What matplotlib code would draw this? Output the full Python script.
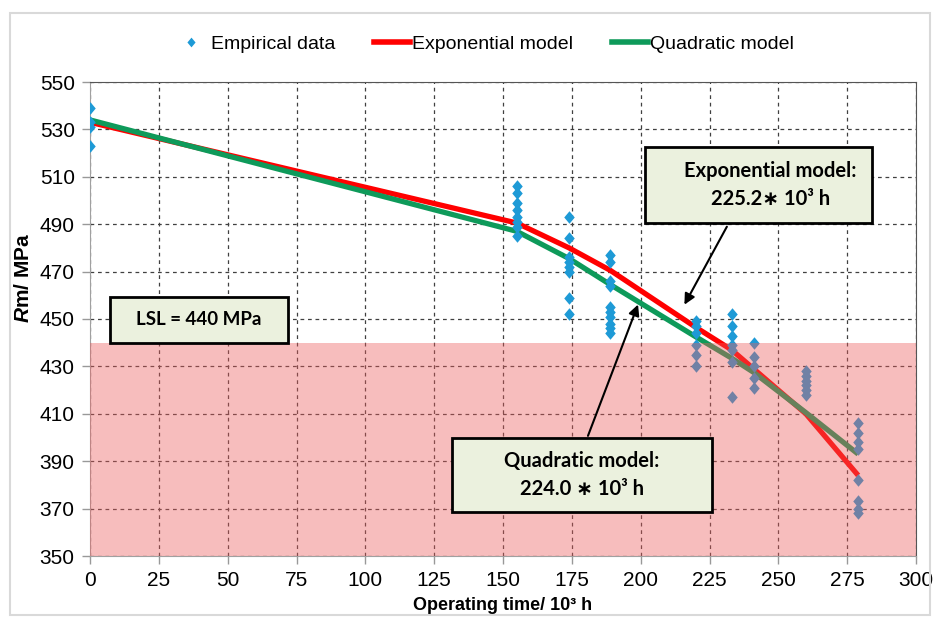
import matplotlib
matplotlib.use("Agg")
import matplotlib.pyplot as plt
from matplotlib.patches import Rectangle
from matplotlib.lines import Line2D
import numpy as np

# -------------------------- data --------------------------
group_time = [0, 155, 174, 189, 220, 233, 241, 260, 279]
group_rm = [
    [539, 533, 531, 523],
    [506, 503, 499, 496, 493, 491, 489, 485],
    [493, 484, 476, 474, 472, 470, 459, 452],
    [477, 474, 466, 464, 455, 453, 451, 448, 446, 444],
    [449, 447, 444, 439, 435, 430],
    [452, 447, 443, 439, 437, 432, 417],
    [440, 434, 430, 425, 421],
    [428, 426, 424, 422, 420, 418],
    [406, 402, 398, 395, 382, 373, 370, 368],
]

model_time = [0, 155, 174, 189, 220, 233, 241, 260, 279]
exp_model = [533, 490.5, 480, 470.5, 446.5, 437, 429, 410, 384]
quad_model = [534, 487, 475.5, 464.5, 442.5, 433.5, 427.5, 410.5, 393]

LSL = 440
labels = ["Empirical data", "Exponential model", "Quadratic model"]

emp_t = np.concatenate([[t] * len(r) for t, r in zip(group_time, group_rm)])
emp_r = np.concatenate(group_rm)

# -------------------------- style --------------------------
plt.rcParams['font.family'] = ['Liberation Sans', 'DejaVu Sans']
plt.rcParams['mathtext.fontset'] = 'custom'
plt.rcParams['mathtext.it'] = 'Liberation Sans:italic:bold'
plt.rcParams['mathtext.rm'] = 'Liberation Sans:bold'

BLUE = "#1E9AD6"
RED = "#FF0000"
GREEN = "#0E9A5A"
BOXFC = "#EBF1DE"
# Excel-like diamond, slightly taller than wide
DIAMOND = [(-0.42, 0), (0, 0.5), (0.42, 0), (0, -0.5), (-0.42, 0)]

fig = plt.figure(figsize=(9.4, 6.24), dpi=100)
ax = fig.add_axes([90 / 940, 1 - 556 / 624, 826 / 940, 474 / 624])

ax.plot(model_time, exp_model, color=RED, lw=3.8, zorder=3, solid_capstyle='butt')
ax.plot(model_time, quad_model, color=GREEN, lw=3.8, zorder=3, solid_capstyle='butt')
ax.plot(emp_t, emp_r, ls='none', marker=DIAMOND, color=BLUE, ms=9, mec='none', zorder=4)

# LSL shaded region drawn over everything
ax.axhspan(350, LSL, color="#ED5C5C", alpha=0.4, lw=0, zorder=5)

ax.set_xlim(0, 300)
ax.set_ylim(350, 550)
ax.set_xticks(np.arange(0, 301, 25))
ax.set_yticks(np.arange(350, 551, 20))
ax.set_axisbelow(True)
ax.grid(True, ls=(0, (3, 3)), color="#404040", lw=0.9)
ax.tick_params(direction='out', length=6, width=1, color="#999999", labelsize=15, pad=5)
for s in ['left', 'bottom']:
    ax.spines[s].set_color("#A0A0A0")
for s in ['top', 'right']:
    ax.spines[s].set_color("#555555")

ax.set_xlabel("Operating time/ 10³ h", fontsize=13, fontweight='bold')
ax.xaxis.set_label_coords(0.5, -0.086)
ax.set_ylabel(r"$\it{R}$m/ MPa", fontsize=15, fontweight='bold')
ax.yaxis.set_label_coords(-0.069, 0.586)

# annotation boxes
box_font = dict(family=['Lato', 'DejaVu Sans'], fontweight='bold',
                ha='center', va='center', linespacing=1.45, zorder=8)
boxes = [
    ((201.6, 490.5), 82.4, 32.0, 4.4, "Exponential model:\n225.2∗ 10³ h", 14.5),
    ((131.5, 368.6), 94.5, 31.2, 0.0, "Quadratic model:\n224.0 ∗ 10³ h", 14.5),
    ((7.3, 439.9), 64.6, 19.4, 0.0, "LSL = 440 MPa", 13.5),
]
for (x0, y0), w, h, dx, txt, fs in boxes:
    ax.add_patch(Rectangle((x0, y0), w, h, fc=BOXFC, ec='black', lw=2, zorder=7))
    ax.text(x0 + w / 2 + dx, y0 + h / 2, txt, fontsize=fs, **box_font)

arrow = dict(arrowstyle='-|>', color='black', lw=1.5, mutation_scale=16)
ax.annotate("", xy=(215.4, 455.0), xytext=(231.8, 490.0), arrowprops=arrow, zorder=8)
ax.annotate("", xy=(199.4, 457.2), xytext=(180.5, 399.6), arrowprops=arrow, zorder=8)

handles = [
    Line2D([], [], marker=DIAMOND, ls='none', color=BLUE, ms=7, mec='none'),
    Line2D([], [], color=RED, lw=4),
    Line2D([], [], color=GREEN, lw=4),
]
fig.legend(handles, labels, loc='center', bbox_to_anchor=(483 / 940, 1 - 44 / 624), ncol=3,
           frameon=False, fontsize=14, handlelength=1.85, handletextpad=0.1,
           columnspacing=2.0)

# outer chart border
fig.patches.append(Rectangle((10 / 940, 1 - 615 / 624), 920 / 940, 602 / 624,
                             transform=fig.transFigure, fill=False, ec="#D9D9D9", lw=1.5))

plt.savefig("out.png", dpi=100)
